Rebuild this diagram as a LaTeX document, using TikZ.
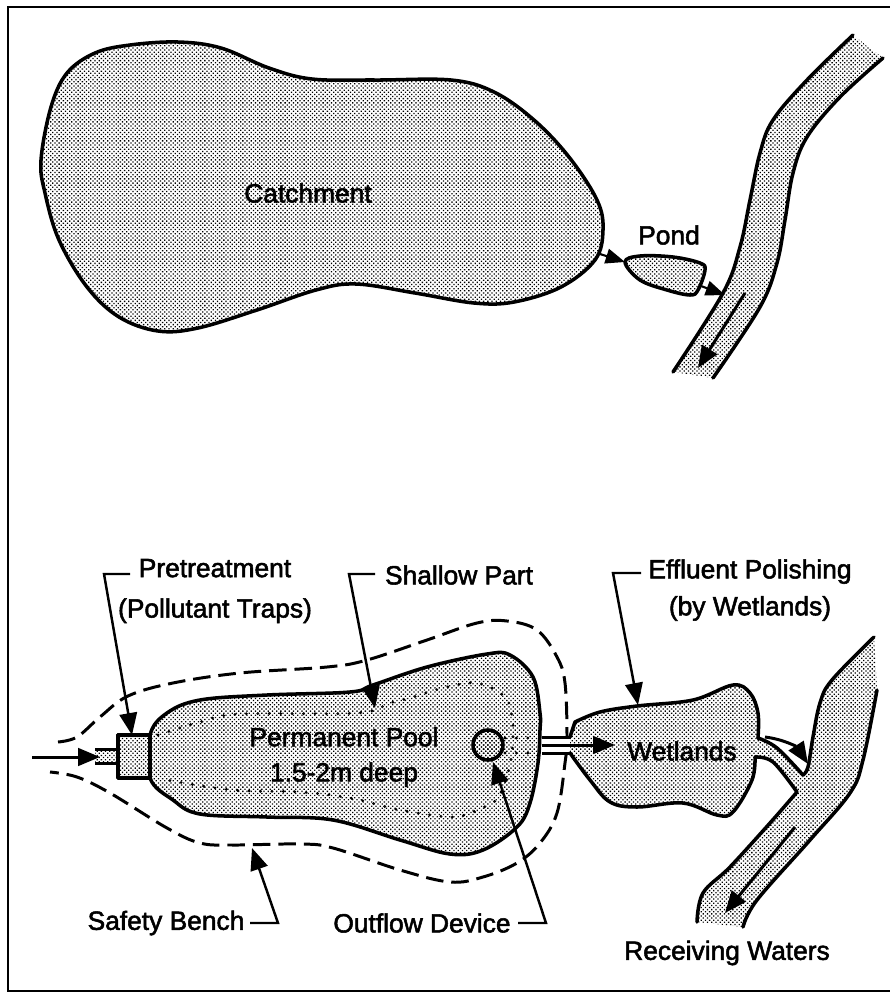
\documentclass[tikz,border=0pt]{standalone}
\usepackage{fontspec}
\usetikzlibrary{arrows.meta,patterns.meta}
\newfontfamily\labelfont[FakeBold=2]{Liberation Sans}
\tikzset{
  sm/.style={smooth,tension=0.6},
  stipple/.style={pattern={Dots[radius=0.52pt,distance=1.7pt,angle=45]},pattern color=black},
  shore/.style={line width=2pt,line join=round,line cap=round},
  leader/.style={line width=1.4pt,-{Triangle[length=12.5pt,width=10pt]}},
  flow/.style={line width=1.7pt,-{Triangle[length=12.5pt,width=10pt]}},
  smallflow/.style={line width=1.2pt,-{Triangle[length=11pt,width=8.5pt]}},
  dotline/.style={line width=1.8pt,line cap=round,dash pattern=on 0pt off 6.5pt},
  tag/.style={font=\labelfont\fontsize{15}{18}\selectfont,inner sep=0pt,align=center},
}
\begin{document}
\begin{tikzpicture}[x=0.02cm,y=-0.02cm]
\useasboundingbox (0,0) rectangle (890,992);
% page frame, open on the right
\draw[line width=1.6pt] (890,7) -- (8,7) -- (8,991) -- (890,991);
% catchment and pond
\filldraw[shore,stipple] plot[smooth cycle,tension=0.6] coordinates {(41,160) (51,107) (67,73) (95,53) (130,45) (178,42) (221,48) (269,68) (312,79) (375,80) (451,80) (494,92) (534,120) (569,157) (597,200) (603,230) (595,260) (561,287) (514,302) (474,303) (415,293) (356,284) (316,290) (257,310) (198,328) (158,331) (119,317) (87,287) (59,240) (45,193)};
\node[tag] (catchment) at (308,193) {Catchment};
\node[tag] (pond) at (669,235) {Pond};
\filldraw[shore,stipple] plot[smooth cycle,tension=0.6] coordinates {(625,262) (640,256) (673,257) (700,263) (705,270) (698,290) (690,295) (667,290) (640,280)};
% upper stream
\fill[stipple] plot[sm] coordinates {(853,35) (807,80) (773,120) (760,153) (750,200) (740,247) (723,293) (673,372)} -- plot[sm] coordinates {(713,378) (760,307) (777,263) (785,220) (793,173) (807,137) (840,97) (883,58)} -- cycle;
\draw[shore] plot[sm] coordinates {(853,35) (807,80) (773,120) (760,153) (750,200) (740,247) (723,293) (673,372)};
\draw[shore] plot[sm] coordinates {(883,58) (840,97) (807,137) (793,173) (785,220) (777,263) (760,307) (713,378)};
\coordinate (c1) at (600,254); \coordinate (c2) at (625,262);
\coordinate (c3) at (701,286); \coordinate (c4) at (725,295);
\coordinate (c5) at (745,293); \coordinate (c6) at (698,368);
\draw[smallflow] (c1) -- (c2);
\draw[smallflow] (c3) -- (c4);
\draw[flow] (c5) -- (c6);
% permanent pool, safety bench, shallow part
\draw[line width=1.7pt,dash pattern=on 10pt off 4.5pt] plot[sm] coordinates {(58,742) (77,737) (100,717) (128,696) (173,683) (240,673) (327,667) (367,660) (427,640) (477,623) (507,621) (537,630) (557,657) (565,683) (567,737) (565,763) (557,813) (540,843) (517,863) (483,877) (450,882) (400,870) (333,848) (300,844) (233,845) (200,843) (167,828) (110,793) (77,777) (50,772)};
\filldraw[shore,stipple] plot[smooth cycle,tension=0.6] coordinates {(150,735) (167,713) (200,700) (267,695) (350,692) (373,685) (427,667) (487,654) (510,655) (533,677) (540,713) (540,730) (538,763) (530,803) (517,827) (483,850) (450,854) (400,840) (333,820) (267,817) (200,814) (173,800) (150,778)};
\draw[dotline] plot[sm] coordinates {(158,735) (200,722) (240,714) (357,713) (390,703) (410,698) (443,688) (477,683) (505,697) (512,717) (513,737) (510,765) (500,795) (490,804) (470,813) (450,817) (400,810) (350,798) (300,792) (233,790) (167,780)};
\draw[dotline] (505,738) -- (530,738);
\draw[dotline] (505,753) -- (530,753);
\node[tag] (pool) at (344,757) {Permanent Pool\\[2pt]1.5-2m deep};
% pretreatment box and inlet
\fill[stipple] (95,750) rectangle (118,763);
\draw[line width=1.7pt] (95,749) -- (118,749);
\draw[line width=1.7pt] (95,763) -- (118,763);
\filldraw[shore,fill=white] (118,735) rectangle (150,778);
\filldraw[shore,stipple] (118,735) rectangle (150,778);
\coordinate (in1) at (32,757); \coordinate (in2) at (100,757);
\draw[flow] (in1) -- (in2);
% outflow device
\node[circle,draw,shore,stipple,minimum size=0.6cm,inner sep=0pt] (outflow) at (488,745) {};
% pipe to the wetlands
\fill[white] (542,738) rectangle (572,752);
\draw[line width=1.7pt] (542,737) -- (570,737);
\draw[line width=1.7pt] (542,753) -- (570,753);
% wetlands with stream into the river
\fill[stipple] (570,737) -- plot[sm] coordinates {(575,722) (600,712) (637,706) (693,700) (733,685) (750,693) (758,713) (758,738)} -- plot[sm] coordinates {(758,738) (777,748) (803,775)} -- plot[sm] coordinates {(797,792) (773,762) (755,757)} -- plot[sm] coordinates {(755,757) (752,780) (733,812) (717,815) (683,803) (637,807) (610,802) (590,780) (570,753)} -- cycle;
\draw[shore] (570,737) -- plot[sm] coordinates {(575,722) (600,712) (637,706) (693,700) (733,685) (750,693) (758,713) (758,738)};
\draw[shore] plot[sm] coordinates {(758,738) (777,748) (803,775)};
\draw[shore] plot[sm] coordinates {(797,792) (773,762) (755,757)};
\draw[shore] plot[sm] coordinates {(755,757) (752,780) (733,812) (717,815) (683,803) (637,807) (610,802) (590,780) (570,753)};
\node[tag] (wetlands) at (682,751) {Wetlands};
% lower river
\fill[stipple] plot[sm] coordinates {(874,637) (832,680) (820,703) (813,737) (808,767) (803,775)} -- plot[sm] coordinates {(797,792) (770,823) (730,867) (703,893) (697,922)} -- plot[sm] coordinates {(743,927) (757,900) (810,840) (850,793) (863,760) (877,690)} -- cycle;
\draw[shore] plot[sm] coordinates {(874,637) (832,680) (820,703) (813,737) (808,767) (803,775)};
\draw[shore] plot[sm] coordinates {(797,792) (770,823) (730,867) (703,893) (697,922)};
\draw[shore] plot[sm] coordinates {(743,927) (757,900) (810,840) (850,793) (863,760) (877,690)};
% flow arrows, lower part
\coordinate (p1) at (542,745); \coordinate (p2) at (615,745);
\draw[flow] (p1) -- (p2);
\coordinate (s1) at (765,737); \coordinate (s2) at (808,764);
\draw[flow] (s1) to[bend left=25] (s2);
\coordinate (r1) at (795,827); \coordinate (r2) at (725,913);
\draw[flow] (r1) -- (r2);
% labels with leaders
\node[tag] (pretreat) at (215,591) {Pretreatment\\[5pt](Pollutant Traps)};
\coordinate (l1a) at (130,574); \coordinate (l1b) at (104,574); \coordinate (l1c) at (132,735);
\draw[leader] (l1a) -- (l1b) -- (l1c);
\node[tag] (shallow) at (459,575) {Shallow Part};
\coordinate (l2a) at (375,574); \coordinate (l2b) at (349,574); \coordinate (l2c) at (375,708);
\draw[leader] (l2a) -- (l2b) -- (l2c);
\node[tag] (effluent) at (750,590) {Effluent Polishing\\[3pt](by Wetlands)};
\coordinate (l3a) at (641,573); \coordinate (l3b) at (613,573); \coordinate (l3c) at (638,705);
\draw[leader] (l3a) -- (l3b) -- (l3c);
\node[tag] (safety) at (166,923) {Safety Bench};
\coordinate (l4a) at (250,923); \coordinate (l4b) at (278,923); \coordinate (l4c) at (252,848);
\draw[leader] (l4a) -- (l4b) -- (l4c);
\node[tag] (device) at (422,923) {Outflow Device};
\coordinate (l5a) at (518,923); \coordinate (l5b) at (546,923); \coordinate (l5c) at (493,762);
\draw[leader] (l5a) -- (l5b) -- (l5c);
\node[tag] (receiving) at (727,953) {Receiving Waters};
\end{tikzpicture}
\end{document}
